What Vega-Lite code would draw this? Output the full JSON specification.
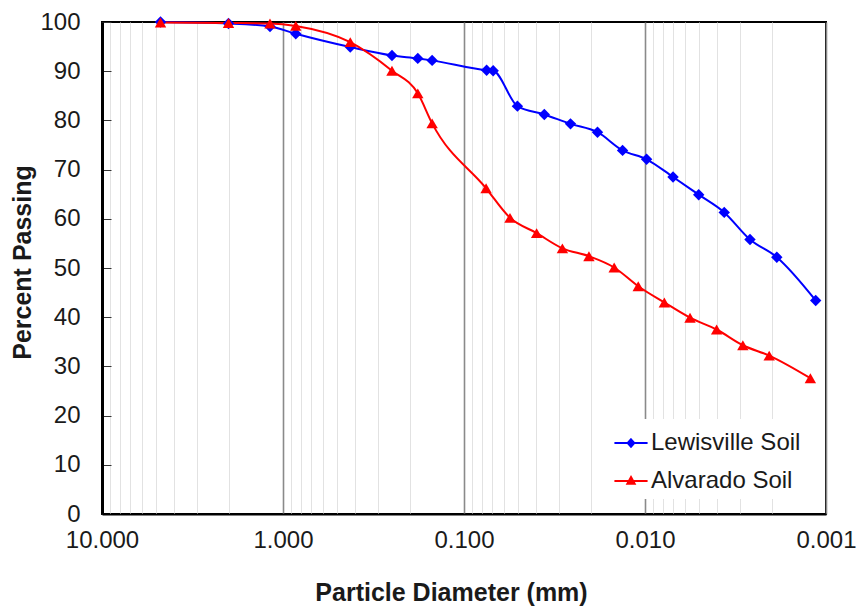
{
  "$schema": "https://vega.github.io/schema/vega-lite/v6.json",
  "width": 724,
  "height": 492,
  "autosize": {"type": "none"},
  "padding": {"left": 102, "top": 22, "right": 34, "bottom": 96},
  "background": "white",
  "config": {
    "font": "Liberation Sans",
    "view": {"stroke": "#000000", "strokeWidth": 2},
    "axis": {"labelFont": "Liberation Sans", "titleFont": "Liberation Sans", "labelColor": "#1a1a1a", "titleColor": "#1a1a1a"}
  },
  "data": {
    "values": [
      {"soil": "Lewisville Soil", "d": 4.75, "pct": 100},
      {"soil": "Lewisville Soil", "d": 2.0, "pct": 99.7},
      {"soil": "Lewisville Soil", "d": 1.18, "pct": 99.1},
      {"soil": "Lewisville Soil", "d": 0.85, "pct": 97.6},
      {"soil": "Lewisville Soil", "d": 0.425, "pct": 94.9},
      {"soil": "Lewisville Soil", "d": 0.25, "pct": 93.2},
      {"soil": "Lewisville Soil", "d": 0.18, "pct": 92.6},
      {"soil": "Lewisville Soil", "d": 0.15, "pct": 92.2},
      {"soil": "Lewisville Soil", "d": 0.075, "pct": 90.2},
      {"soil": "Lewisville Soil", "d": 0.069, "pct": 90.1},
      {"soil": "Lewisville Soil", "d": 0.0507, "pct": 82.9},
      {"soil": "Lewisville Soil", "d": 0.036, "pct": 81.2},
      {"soil": "Lewisville Soil", "d": 0.0258, "pct": 79.3},
      {"soil": "Lewisville Soil", "d": 0.0183, "pct": 77.6},
      {"soil": "Lewisville Soil", "d": 0.0133, "pct": 73.9},
      {"soil": "Lewisville Soil", "d": 0.0098, "pct": 72.1},
      {"soil": "Lewisville Soil", "d": 0.0070, "pct": 68.5},
      {"soil": "Lewisville Soil", "d": 0.00505, "pct": 64.9},
      {"soil": "Lewisville Soil", "d": 0.00365, "pct": 61.3},
      {"soil": "Lewisville Soil", "d": 0.00263, "pct": 55.8},
      {"soil": "Lewisville Soil", "d": 0.00187, "pct": 52.2},
      {"soil": "Lewisville Soil", "d": 0.00114, "pct": 43.4},
      {"soil": "Alvarado Soil", "d": 4.75, "pct": 99.9},
      {"soil": "Alvarado Soil", "d": 2.0, "pct": 99.8},
      {"soil": "Alvarado Soil", "d": 1.18, "pct": 99.7},
      {"soil": "Alvarado Soil", "d": 0.85, "pct": 99.2},
      {"soil": "Alvarado Soil", "d": 0.425, "pct": 95.9},
      {"soil": "Alvarado Soil", "d": 0.25, "pct": 90.1},
      {"soil": "Alvarado Soil", "d": 0.18, "pct": 85.5},
      {"soil": "Alvarado Soil", "d": 0.15, "pct": 79.4},
      {"soil": "Alvarado Soil", "d": 0.0755, "pct": 66.2},
      {"soil": "Alvarado Soil", "d": 0.0557, "pct": 60.2},
      {"soil": "Alvarado Soil", "d": 0.0397, "pct": 57.1},
      {"soil": "Alvarado Soil", "d": 0.0286, "pct": 54.0},
      {"soil": "Alvarado Soil", "d": 0.0204, "pct": 52.4},
      {"soil": "Alvarado Soil", "d": 0.0148, "pct": 50.1},
      {"soil": "Alvarado Soil", "d": 0.0109, "pct": 46.3},
      {"soil": "Alvarado Soil", "d": 0.00782, "pct": 43.0},
      {"soil": "Alvarado Soil", "d": 0.00564, "pct": 39.9},
      {"soil": "Alvarado Soil", "d": 0.00402, "pct": 37.5},
      {"soil": "Alvarado Soil", "d": 0.00288, "pct": 34.3},
      {"soil": "Alvarado Soil", "d": 0.00206, "pct": 32.2},
      {"soil": "Alvarado Soil", "d": 0.00122, "pct": 27.6}
    ]
  },
  "encoding": {
    "x": {
      "field": "d",
      "type": "quantitative",
      "scale": {"type": "log", "domain": [10, 0.001], "nice": false},
      "axis": {
        "title": "Particle Diameter (mm)",
        "titleFontSize": 25,
        "titleFontWeight": "bold",
        "titleX": 349,
        "titleY": 78,
        "titleBaseline": "middle",
        "titleAlign": "center",
        "values": [10, 9, 8, 7, 6, 5, 4, 3, 2, 1, 0.9, 0.8, 0.7, 0.6, 0.5, 0.4, 0.3, 0.2, 0.1, 0.09, 0.08, 0.07, 0.06, 0.05, 0.04, 0.03, 0.02, 0.01, 0.009, 0.008, 0.007, 0.006, 0.005, 0.004, 0.003, 0.002, 0.001],
        "labelExpr": "indexof([10,1,0.1,0.01,0.001], datum.value) >= 0 ? format(datum.value, '.3f') : ''",
        "labelFontSize": 24,
        "labelPadding": 14,
        "labelOverlap": false,
        "labelFlush": false,
        "ticks": false,
        "domain": true,
        "domainColor": "#000000",
        "domainWidth": 2,
        "grid": true,
        "gridColor": {"condition": {"test": "indexof([10,1,0.1,0.01,0.001], datum.value) >= 0", "value": "#8a8a8a"}, "value": "#e2e2e2"},
        "gridWidth": {"condition": {"test": "indexof([10,1,0.1,0.01,0.001], datum.value) >= 0", "value": 1.6}, "value": 1}
      }
    },
    "y": {
      "field": "pct",
      "type": "quantitative",
      "scale": {"domain": [0, 100], "nice": false},
      "axis": {
        "title": "Percent Passing",
        "titleFontSize": 25,
        "titleFontWeight": "bold",
        "titleX": -80,
        "titleY": 240,
        "titleAngle": -90,
        "titleBaseline": "middle",
        "titleAlign": "center",
        "values": [0, 10, 20, 30, 40, 50, 60, 70, 80, 90, 100],
        "labelFontSize": 24,
        "ticks": false,
        "labelPadding": 22,
        "domainColor": "#000000",
        "domainWidth": 3,
        "grid": true,
        "gridColor": "#333333",
        "gridWidth": 1,
        "gridDash": [9, 2000]
      }
    },
    "color": {
      "field": "soil",
      "type": "nominal",
      "scale": {"domain": ["Lewisville Soil", "Alvarado Soil"], "range": ["#0000ff", "#ff0000"]},
      "legend": {
        "title": null,
        "orient": "none",
        "legendX": 505,
        "legendY": 397,
        "fillColor": "#ffffff",
        "padding": 6,
        "labelFontSize": 24,
        "labelColor": "#1a1a1a",
        "labelFont": "Liberation Sans",
        "labelOffset": 2,
        "symbolSize": 1100,
        "rowPadding": 8,
        "symbolStrokeWidth": 2,
        "encode": {
          "symbols": {
            "update": {
              "shape": {"signal": "datum.value === 'Lewisville Soil' ? 'M-1,0H1M0,-0.22L0.2,0L0,0.22L-0.2,0Z' : 'M-1,0H1M0,-0.24L0.22,0.16L-0.22,0.16Z'"},
              "fill": {"signal": "datum.value === 'Lewisville Soil' ? '#0000ff' : '#ff0000'"},
              "stroke": {"signal": "datum.value === 'Lewisville Soil' ? '#0000ff' : '#ff0000'"},
              "strokeWidth": {"value": 2},
              "opacity": {"value": 1}
            }
          }
        }
      }
    }
  },
  "layer": [
    {
      "mark": {"type": "line", "interpolate": "monotone", "strokeWidth": 2},
      "encoding": {"order": {"field": "d", "sort": "descending"}}
    },
    {
      "mark": {"type": "point", "filled": true, "opacity": 1, "size": 130},
      "encoding": {
        "shape": {"condition": {"test": "datum.soil === 'Lewisville Soil'", "value": "diamond"}, "value": "triangle-up"}
      }
    }
  ]
}
